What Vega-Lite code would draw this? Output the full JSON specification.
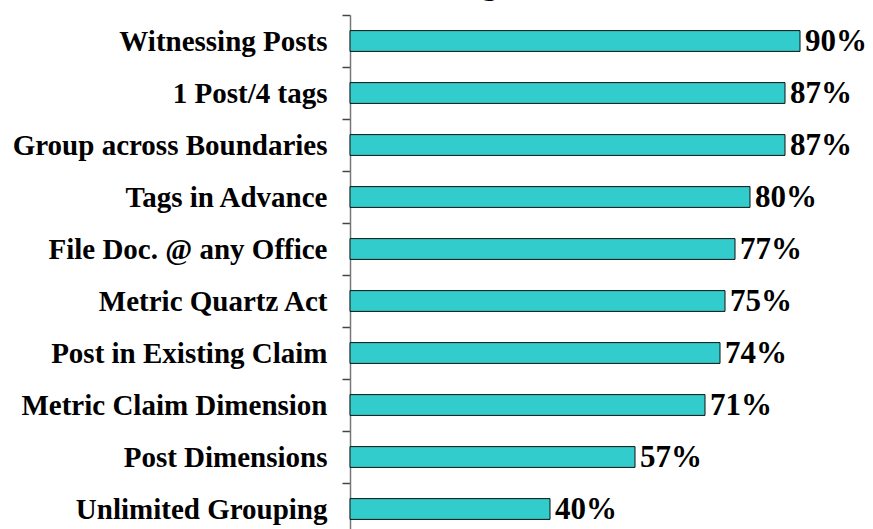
{
  "$schema": "https://vega.github.io/schema/vega-lite/v6.json",
  "width": 500,
  "height": 520,
  "autosize": {"type": "none"},
  "padding": {"top": 15, "left": 350, "right": 23, "bottom": 0},
  "background": "white",
  "title": {
    "text": "Ranking",
    "anchor": "end",
    "frame": "group",
    "baseline": "alphabetic",
    "offset": 4,
    "dx": -348,
    "dy": 27,
    "font": "Liberation Sans",
    "fontSize": 46,
    "fontWeight": "normal",
    "color": "black"
  },
  "data": {
    "values": [
      {"item": "Witnessing Posts", "value": 0.90},
      {"item": "1 Post/4 tags", "value": 0.87},
      {"item": "Group across Boundaries", "value": 0.87},
      {"item": "Tags in Advance", "value": 0.80},
      {"item": "File Doc. @ any Office", "value": 0.77},
      {"item": "Metric Quartz Act", "value": 0.75},
      {"item": "Post in Existing Claim", "value": 0.74},
      {"item": "Metric Claim Dimension\u00a0", "value": 0.71},
      {"item": "Post Dimensions", "value": 0.57},
      {"item": "Unlimited Grouping", "value": 0.40}
    ]
  },
  "encoding": {
    "y": {
      "field": "item",
      "type": "nominal",
      "sort": null,
      "scale": {"paddingInner": 0.6, "paddingOuter": 0.3},
      "axis": {
        "title": null,
        "tickOffset": -26,
        "labelOffset": 26,
        "tickSize": 8,
        "tickColor": "#444444",
        "tickWidth": 1.5,
        "domainColor": "#777777",
        "domainWidth": 1.5,
        "labelPadding": 15,
        "labelFont": "Liberation Serif",
        "labelFontWeight": "bold",
        "labelFontSize": 29,
        "labelColor": "black",
        "labelLimit": 400
      }
    },
    "x": {
      "field": "value",
      "type": "quantitative",
      "scale": {"domain": [0, 1], "nice": false},
      "axis": null
    }
  },
  "layer": [
    {
      "mark": {"type": "bar", "color": "#33CCCC", "stroke": "#111111", "strokeWidth": 1}
    },
    {
      "mark": {
        "type": "text",
        "align": "left",
        "baseline": "middle",
        "dx": 5,
        "dy": 1,
        "font": "Liberation Serif",
        "fontWeight": "bold",
        "fontSize": 31,
        "color": "black"
      },
      "encoding": {
        "text": {"field": "value", "type": "quantitative", "format": ".0%"}
      }
    }
  ],
  "config": {"view": {"stroke": null}}
}
